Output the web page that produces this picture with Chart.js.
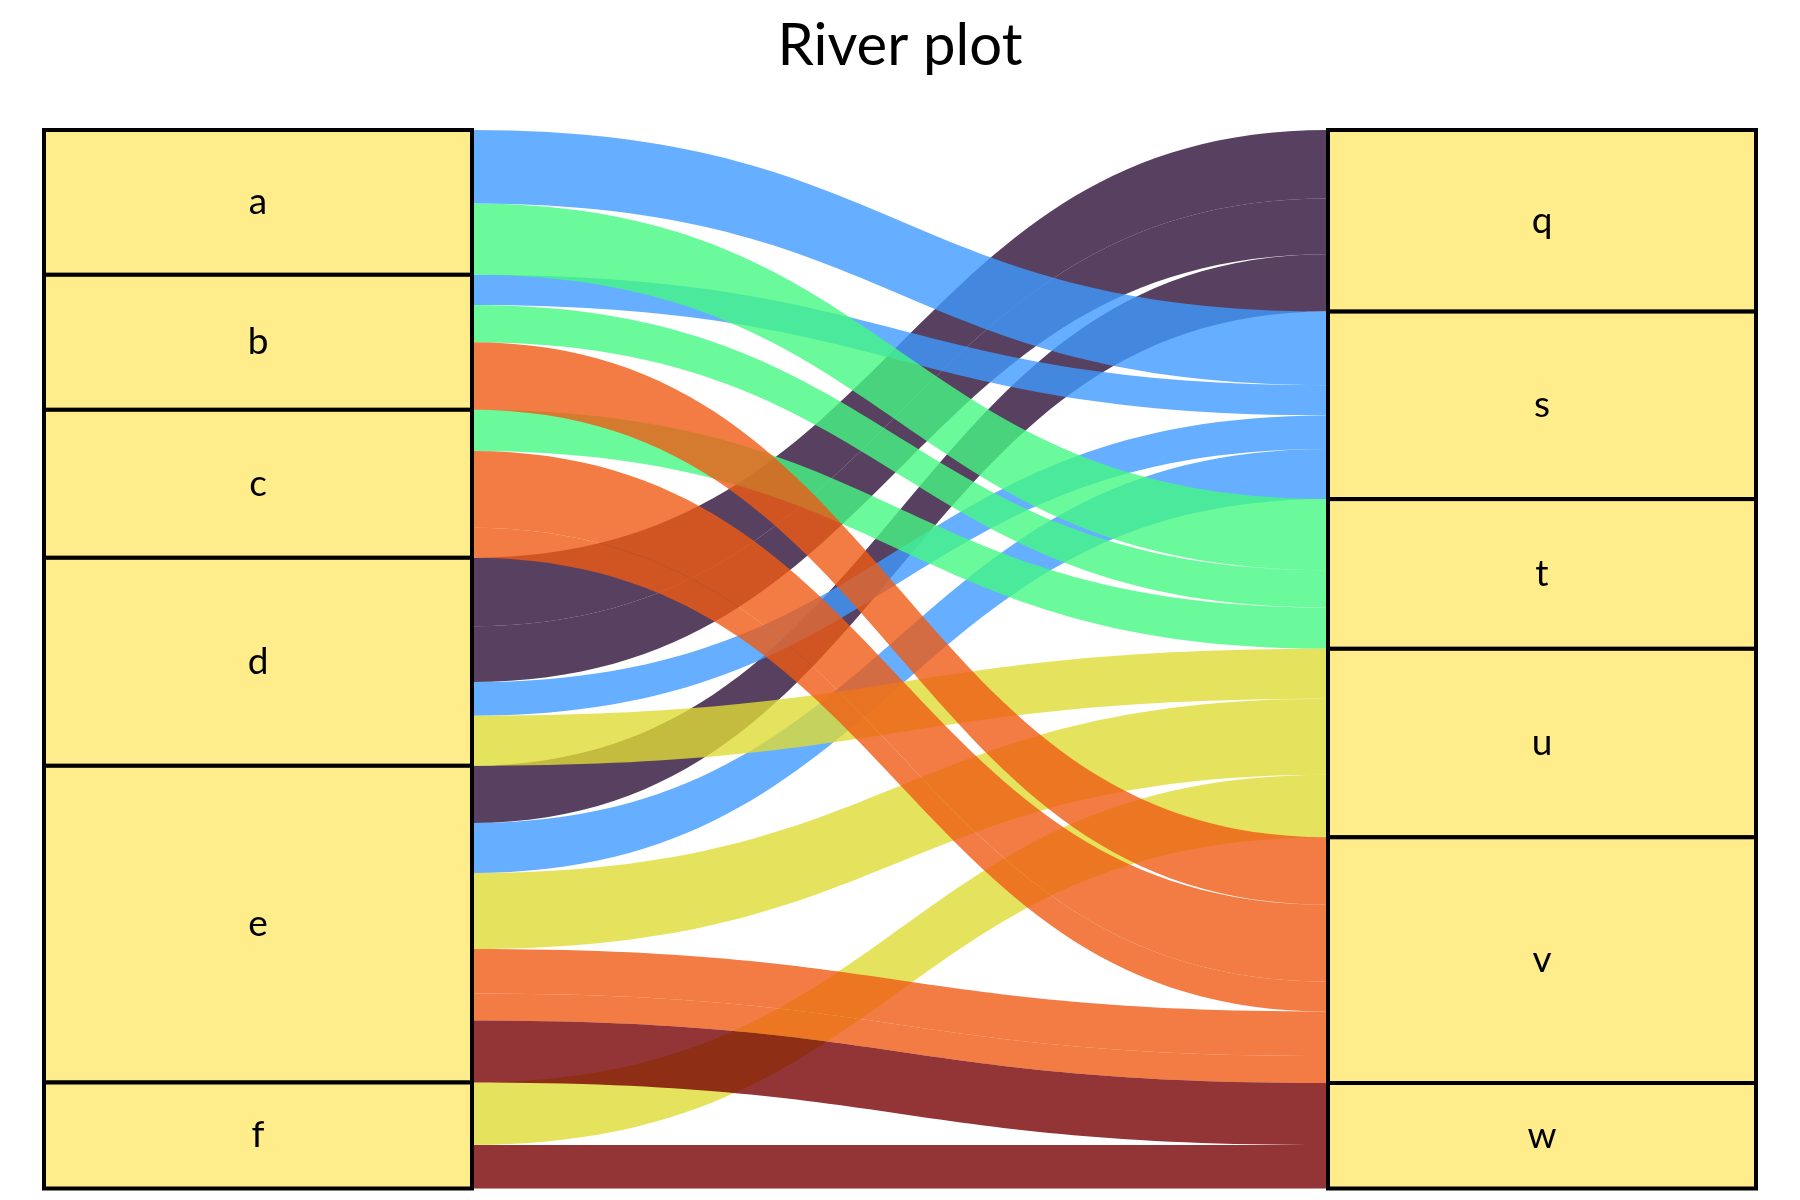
<!DOCTYPE html>
<html>
<head>
<meta charset="utf-8">
<script src="https://cdn.jsdelivr.net/npm/chart.js@4.4.1/dist/chart.umd.min.js"></script>
<style>
  html, body { margin: 0; padding: 0; background: #ffffff; }
  #wrap { width: 1800px; height: 1200px; }
</style>
</head>
<body>
<div id="wrap"><canvas id="c" width="1800" height="1200"></canvas></div>
<script>
// ---- data ----
const leftNodes  = ['a', 'b', 'c', 'd', 'e', 'f'];
const rightNodes = ['q', 's', 't', 'u', 'v', 'w'];
const flowSources = ['a','a','b','b','b','c','c','c','d','d','d','d','e','e','e','e','e','e','f','f'];
const flowTargets = ['s','t','s','t','v','t','v','v','q','q','s','u','q','s','u','v','v','w','u','w'];
const flowValues  = [7.36,7.12,3.02,3.73,6.75,4.12,7.68,3.00,6.85,5.58,3.37,5.00,5.73,5.00,7.60,4.43,2.71,6.20,6.25,4.35];
const targetColors = ['rgba(46,16,56,0.8)','rgba(64,154,255,0.8)','rgba(69,249,131,0.8)',
                      'rgba(222,220,54,0.8)','rgba(239,91,20,0.8)','rgba(120,1,4,0.8)'];
const titleText = 'River plot';

const totalValue = flowValues.reduce((s, v) => s + v, 0);

// stacking offsets (value space)
function buildLayout() {
  const idx = flowValues.map((_, i) => i);
  const leftStart = {}, rightStart = {};
  const leftNodeRange = {}, rightNodeRange = {};
  let acc = 0;
  leftNodes.forEach(n => {
    const start = acc;
    idx.filter(i => flowSources[i] === n)
       .sort((i, j) => rightNodes.indexOf(flowTargets[i]) - rightNodes.indexOf(flowTargets[j]) || i - j)
       .forEach(i => { leftStart[i] = acc; acc += flowValues[i]; });
    leftNodeRange[n] = [start, acc];
  });
  acc = 0;
  rightNodes.forEach(n => {
    const start = acc;
    idx.filter(i => flowTargets[i] === n)
       .sort((i, j) => leftNodes.indexOf(flowSources[i]) - leftNodes.indexOf(flowSources[j]) || i - j)
       .forEach(i => { rightStart[i] = acc; acc += flowValues[i]; });
    rightNodeRange[n] = [start, acc];
  });
  return { leftStart, rightStart, leftNodeRange, rightNodeRange };
}
const layout = buildLayout();

const NODE_W = 0.25; // fraction of x-axis for node boxes

const riverPlugin = {
  id: 'river',
  afterDatasetsDraw(chart) {
    const ctx = chart.ctx;
    const xs = chart.scales.x, ys = chart.scales.y;
    const xL = xs.getPixelForValue(NODE_W);
    const xR = xs.getPixelForValue(1 - NODE_W);
    const xM = xs.getPixelForValue(0.5);
    // flows: drawn in target order
    const order = flowValues.map((_, i) => i).sort((i, j) =>
      rightNodes.indexOf(flowTargets[i]) - rightNodes.indexOf(flowTargets[j]) ||
      leftNodes.indexOf(flowSources[i]) - leftNodes.indexOf(flowSources[j]) || i - j);
    ctx.save();
    order.forEach(i => {
      const v = flowValues[i];
      const y0 = layout.leftStart[i], y1 = layout.rightStart[i];
      const tL = ys.getPixelForValue(y0), bL = ys.getPixelForValue(y0 + v);
      const tR = ys.getPixelForValue(y1), bR = ys.getPixelForValue(y1 + v);
      ctx.beginPath();
      ctx.moveTo(xL, tL);
      ctx.bezierCurveTo(xM, tL, xM, tR, xR, tR);
      ctx.lineTo(xR, bR);
      ctx.bezierCurveTo(xM, bR, xM, bL, xL, bL);
      ctx.closePath();
      ctx.fillStyle = targetColors[rightNodes.indexOf(flowTargets[i])];
      ctx.fill();
    });
    // nodes
    const drawNode = (name, range, xa, xb) => {
      const ya = ys.getPixelForValue(range[0]);
      const yb = ys.getPixelForValue(range[1]);
      ctx.fillStyle = '#FFEC8B';
      ctx.fillRect(xa, ya, xb - xa, yb - ya);
      ctx.lineWidth = 4;
      ctx.strokeStyle = '#000000';
      ctx.strokeRect(xa, ya, xb - xa, yb - ya);
    };
    const labelNode = (name, range, xa, xb) => {
      const ya = ys.getPixelForValue(range[0]);
      const yb = ys.getPixelForValue(range[1]);
      ctx.fillStyle = '#000000';
      ctx.font = '37px Lato';
      ctx.textAlign = 'center';
      ctx.textBaseline = 'middle';
      ctx.fillText(name, (xa + xb) / 2, (ya + yb) / 2);
    };
    const xl0 = xs.getPixelForValue(0), xr1 = xs.getPixelForValue(1);
    leftNodes.forEach(n => drawNode(n, layout.leftNodeRange[n], xl0, xL));
    rightNodes.forEach(n => drawNode(n, layout.rightNodeRange[n], xR, xr1));
    leftNodes.forEach(n => labelNode(n, layout.leftNodeRange[n], xl0, xL));
    rightNodes.forEach(n => labelNode(n, layout.rightNodeRange[n], xR, xr1));
    ctx.restore();
  }
};

new Chart(document.getElementById('c'), {
  type: 'scatter',
  data: { datasets: [{ data: [], showLine: false }] },
  options: {
    responsive: false,
    devicePixelRatio: 1,
    animation: false,
    layout: { padding: { left: 44, right: 44, top: 0, bottom: 11.5 } },
    plugins: {
      legend: { display: false },
      tooltip: { enabled: false },
      title: {
        display: true,
        text: titleText,
        color: '#000000',
        font: { family: 'Lato', size: 58, weight: 'normal' },
        padding: { top: 11, bottom: 49.4 }
      }
    },
    scales: {
      x: { type: 'linear', min: 0, max: 1, display: false },
      y: { type: 'linear', min: 0, max: totalValue, reverse: true, display: false }
    }
  },
  plugins: [riverPlugin]
});
</script>
</body>
</html>
